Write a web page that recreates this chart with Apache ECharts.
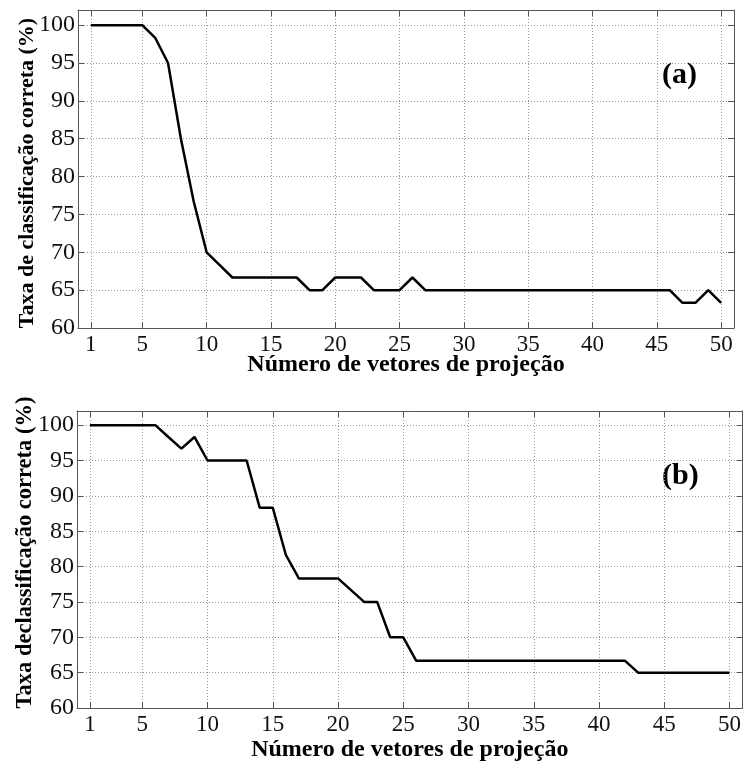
<!DOCTYPE html>
<html>
<head>
<meta charset="utf-8">
<script src="https://cdn.jsdelivr.net/npm/echarts@6/dist/echarts.min.js"></script>
<style>
  html, body { margin: 0; padding: 0; background: #fff; }
  #chart { width: 744px; height: 764px; }
</style>
</head>
<body>
<div id="chart"></div>
<script>
// Number of projection vectors (x) for both panels
const xValues = [1, 2, 3, 4, 5, 6, 7, 8, 9, 10,
  11, 12, 13, 14, 15, 16, 17, 18, 19, 20,
  21, 22, 23, 24, 25, 26, 27, 28, 29, 30,
  31, 32, 33, 34, 35, 36, 37, 38, 39, 40,
  41, 42, 43, 44, 45, 46, 47, 48, 49, 50];

// Panel (a): correct classification rate (%)
const rateA = [100, 100, 100, 100, 100, 98.33, 95, 85, 76.67, 70,
  68.33, 66.67, 66.67, 66.67, 66.67, 66.67, 66.67, 65, 65, 66.67,
  66.67, 66.67, 65, 65, 65, 66.67, 65, 65, 65, 65,
  65, 65, 65, 65, 65, 65, 65, 65, 65, 65,
  65, 65, 65, 65, 65, 65, 63.33, 63.33, 65, 63.33];

// Panel (b): correct classification rate (%)
const rateB = [100, 100, 100, 100, 100, 100, 98.33, 96.67, 98.33, 95,
  95, 95, 95, 88.33, 88.33, 81.67, 78.33, 78.33, 78.33, 78.33,
  76.67, 75, 75, 70, 70, 66.67, 66.67, 66.67, 66.67, 66.67,
  66.67, 66.67, 66.67, 66.67, 66.67, 66.67, 66.67, 66.67, 66.67, 66.67,
  66.67, 66.67, 65, 65, 65, 65, 65, 65, 65, 65];

const xTicks = [1, 5, 10, 15, 20, 25, 30, 35, 40, 45, 50];
const yTicks = [60, 65, 70, 75, 80, 85, 90, 95, 100];

const xTitle = 'Número de vetores de projeção';
const yTitleA = 'Taxa de classificação correta (%)';
const yTitleB = 'Taxa declassificação correta (%)';

const FONT = "'Liberation Serif', 'Times New Roman', serif";
const BOX = '#555';
const GRIDC = '#9a9a9a';

function pairs(ys) { return xValues.map((x, i) => [x, ys[i]]); }

function xAxes(gi, nameGap) {
  return [{
    type: 'value', gridIndex: gi, position: 'bottom', min: 0, max: 51,
    name: xTitle, nameLocation: 'middle', nameGap: nameGap, nameMoveOverlap: false,
    nameTextStyle: { fontFamily: FONT, fontWeight: 'bold', fontSize: 24, color: '#000' },
    axisLine: { show: true, onZero: false, lineStyle: { color: BOX, width: 1 } },
    axisTick: { show: true, inside: true, length: 6, customValues: xTicks, lineStyle: { color: BOX } },
    axisLabel: { customValues: xTicks, fontFamily: FONT, fontSize: 23, color: '#111', margin: 5 },
    splitLine: { show: true, lineStyle: { color: GRIDC, type: [1, 2], width: 1 } }
  }, {
    type: 'value', gridIndex: gi, position: 'top', min: 0, max: 51,
    axisLine: { show: true, onZero: false, lineStyle: { color: BOX, width: 1 } },
    axisTick: { show: true, inside: true, length: 6, customValues: xTicks, lineStyle: { color: BOX } },
    axisLabel: { show: false },
    splitLine: { show: false }
  }];
}

function yAxes(gi, title, nameGap, fontSize, pad) {
  return [{
    type: 'value', gridIndex: gi, position: 'left', min: 60, max: 102,
    name: title, nameLocation: 'middle', nameGap: nameGap, nameMoveOverlap: false,
    nameTextStyle: { fontFamily: FONT, fontWeight: 'bold', fontSize: fontSize, color: '#000', padding: pad },
    axisLine: { show: true, onZero: false, lineStyle: { color: BOX, width: 1 } },
    axisTick: { show: true, inside: true, length: 6, customValues: yTicks, lineStyle: { color: BOX } },
    axisLabel: { customValues: yTicks, fontFamily: FONT, fontSize: 24, color: '#111', margin: 3 },
    splitLine: { show: true, lineStyle: { color: GRIDC, type: [1, 2], width: 1 } }
  }, {
    type: 'value', gridIndex: gi, position: 'right', min: 60, max: 102,
    axisLine: { show: true, onZero: false, lineStyle: { color: BOX, width: 1 } },
    axisTick: { show: true, inside: true, length: 6, customValues: yTicks, lineStyle: { color: BOX } },
    axisLabel: { show: false },
    splitLine: { show: false }
  }];
}

const chart = echarts.init(document.getElementById('chart'), null, { renderer: 'canvas' });

chart.setOption({
  animation: false,
  backgroundColor: '#fff',
  grid: [
    { left: 78, top: 10, width: 656, height: 318 },
    { left: 77, top: 411, width: 666, height: 297 }
  ],
  xAxis: [...xAxes(0, 25), ...xAxes(1, 30)],
  yAxis: [...yAxes(0, yTitleA, 40, 22, [0, 8, 0, 0]), ...yAxes(1, yTitleB, 40, 22.5, [0, 0, 0, 14])],
  series: [{
    type: 'line', xAxisIndex: 0, yAxisIndex: 0, data: pairs(rateA),
    showSymbol: false, lineStyle: { color: '#000', width: 2.5 }
  }, {
    type: 'line', xAxisIndex: 2, yAxisIndex: 2, data: pairs(rateB),
    showSymbol: false, lineStyle: { color: '#000', width: 2.5 }
  }],
  graphic: [{
    type: 'text', left: 662, top: 60,
    style: { text: '(a)', font: "bold 30px " + FONT, fill: '#000' }
  }, {
    type: 'text', left: 662, top: 461,
    style: { text: '(b)', font: "bold 30px " + FONT, fill: '#000' }
  }]
});
</script>
</body>
</html>
